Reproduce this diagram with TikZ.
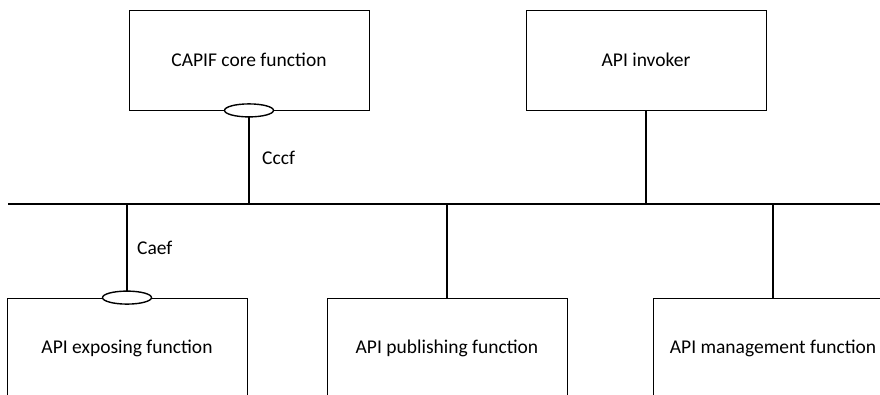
\documentclass[tikz,border=0pt]{standalone}
\usepackage{fontspec}
\setmainfont{Carlito}
\usetikzlibrary{shapes.geometric}
\begin{document}
\begin{tikzpicture}[x=1pt,y=-1pt,
  box/.style={draw, line width=0.8pt, minimum width=240pt, minimum height=100pt, font=\fontsize{19.5}{23}\selectfont, inner sep=0pt},
  port/.style={draw, ellipse, line width=1.4pt, fill=white, minimum width=49pt, minimum height=13pt, inner sep=0pt},
  link/.style={line width=1.8pt},
  lbl/.style={font=\fontsize{19.5}{23}\selectfont, anchor=west, inner sep=0pt}]
\useasboundingbox (0,0) rectangle (880,394);
\fill[white] (0,0) rectangle (880,394);
\clip (0,0) rectangle (880,394);
\node[box] (ccf) at (249,60) {CAPIF core function};
\node[box] (inv) at (646,60) {API invoker};
\node[box] (aef) at (127,348) {API exposing function};
\node[box] (apf) at (447,348) {API publishing function};
\node[box] (amf) at (773,348) {API management function};
\coordinate (busL) at (8,204);
\coordinate (busR) at (880,204);
\draw[link] (busL) -- (busR);
\draw[link] (ccf.south) -- (ccf.south |- busL);
\draw[link] (inv.south) -- (inv.south |- busL);
\draw[link] (aef.north) -- (aef.north |- busL);
\draw[link] (apf.north) -- (apf.north |- busL);
\draw[link] (amf.north) -- (amf.north |- busL);
\node[port] (pccf) at (ccf.south) {};
\node[port] (paef) at (aef.north) {};
\node[lbl] (lccf) at (262,158) {Cccf};
\node[lbl] (laef) at (137,248) {Caef};
\end{tikzpicture}
\end{document}
